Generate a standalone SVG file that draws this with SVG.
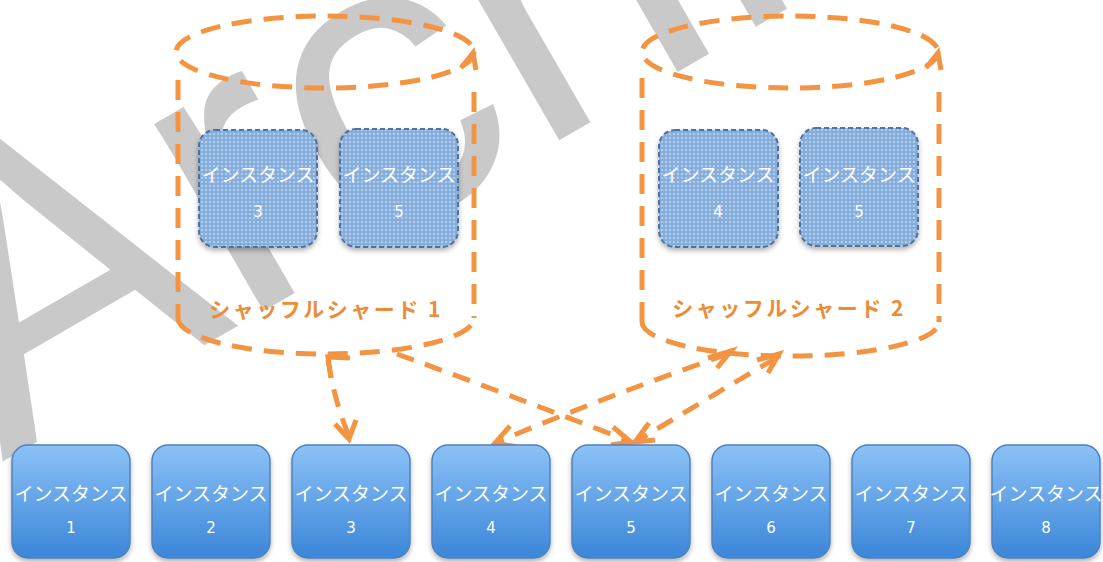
<svg xmlns="http://www.w3.org/2000/svg" width="1103" height="562" viewBox="0 0 1103 562">
  <defs>
    <style>
      .wm { font-family: "Liberation Sans", Arial, sans-serif; font-size: 410px; fill: #c9c9c9; }
      .cyl { fill: none; stroke: #F39443; stroke-width: 5; stroke-dasharray: 20 12; }
      .chev { fill: none; stroke: #F39443; stroke-width: 5; stroke-linecap: butt; }
      .conn { fill: none; stroke: #F39443; stroke-width: 5; stroke-dasharray: 18 12; }
      .lbl { font-family: "Noto Sans CJK JP", "Noto Sans", sans-serif; font-size: 21px; font-weight: 700; fill: #EC8B38; letter-spacing: 2.5px; text-anchor: middle; }
      .inst { font-family: "Noto Sans CJK JP", "Noto Sans", sans-serif; font-size: 19px; fill: #ffffff; text-anchor: middle; }
      .num { font-family: "DejaVu Sans", "Liberation Sans", sans-serif; font-size: 15px; fill: #ffffff; text-anchor: middle; }
      .box { fill: url(#boxGrad); stroke: #4F81BD; stroke-width: 1.5; filter: url(#shadow); }
      .shard { fill: url(#dots); stroke: #50739E; stroke-width: 2; stroke-dasharray: 5 3; filter: url(#shadow); }
    </style>
    <linearGradient id="boxGrad" x1="0" y1="0" x2="0" y2="1">
      <stop offset="0" stop-color="#8CC1F6"/>
      <stop offset="1" stop-color="#3B86D9"/>
    </linearGradient>
    <pattern id="dots" width="4" height="4" patternUnits="userSpaceOnUse">
      <rect width="4" height="4" fill="#86AEDD"/>
      <circle cx="2" cy="2" r="0.9" fill="#ffffff" fill-opacity="0.55"/>
    </pattern>
    <filter id="shadow" x="-10%" y="-10%" width="130%" height="130%">
      <feDropShadow dx="0" dy="3" stdDeviation="2.5" flood-color="#000" flood-opacity="0.3"/>
    </filter>
  </defs>

  <!-- background watermark lettering -->
  <text class="wm" transform="translate(2,462) rotate(-30)">Archi</text>

  <!-- shard cylinder 1 -->
  <g id="shard1">
    <ellipse class="cyl" cx="325" cy="52" rx="149" ry="36"/>
    <polyline class="chev" points="461,68 473,53 476,70"/>
    <line class="cyl" x1="178" y1="80" x2="178" y2="318"/>
    <line class="cyl" x1="474" y1="92" x2="474" y2="318"/>
    <path class="cyl" d="M178,318 A148,36 0 0 0 474,318"/>
    <g id="shard1-inst3">
      <rect class="shard" x="199" y="130" width="118" height="117" rx="16"/>
      <text class="inst" x="258" y="182">インスタンス</text>
      <text class="num" x="258" y="217">3</text>
    </g>
    <g id="shard1-inst5">
      <rect class="shard" x="340" y="129" width="118" height="118" rx="16"/>
      <text class="inst" x="399" y="182">インスタンス</text>
      <text class="num" x="399" y="217">5</text>
    </g>
    <text class="lbl" x="326" y="317">シャッフルシャード 1</text>
  </g>

  <!-- shard cylinder 2 -->
  <g id="shard2">
    <ellipse class="cyl" cx="790" cy="52" rx="148" ry="36"/>
    <polyline class="chev" points="926,68 938,53 941,70"/>
    <line class="cyl" x1="642" y1="78" x2="642" y2="322"/>
    <line class="cyl" x1="939" y1="92" x2="939" y2="322"/>
    <path class="cyl" d="M642,322 A148,34 0 0 0 939,322"/>
    <g id="shard2-inst4">
      <rect class="shard" x="659" y="130" width="119" height="117" rx="16"/>
      <text class="inst" x="718" y="182">インスタンス</text>
      <text class="num" x="718" y="217">4</text>
    </g>
    <g id="shard2-inst5">
      <rect class="shard" x="800" y="128" width="118" height="118" rx="16"/>
      <text class="inst" x="859" y="182">インスタンス</text>
      <text class="num" x="859" y="217">5</text>
    </g>
    <text class="lbl" x="789" y="316">シャッフルシャード 2</text>
  </g>

  <!-- connectors -->
  <g id="connectors">
    <path class="conn" d="M328,360 Q334,400 349,436"/>
    <polyline class="chev" points="350,358 328,357 331,378"/>
    <polyline class="chev" points="335,424 349,439 356,420"/>

    <path class="conn" d="M397,354 Q510,395 629,441"/>
    <polyline class="chev" points="613,427 631,442 611,445"/>

    <path class="conn" d="M728,354 Q610,395 497,442"/>
    <polyline class="chev" points="708,358 731,351 717,368"/>
    <polyline class="chev" points="510,426 495,443 517,447"/>

    <path class="conn" d="M776,358 Q705,400 637,441"/>
    <polyline class="chev" points="757,360 779,354 768,373"/>
    <polyline class="chev" points="649,423 635,442 655,440"/>
  </g>

  <!-- instance row -->
  <g id="inst1"><rect class="box" x="12" y="445" width="118" height="113" rx="16"/><text class="inst" x="71" y="501">インスタンス</text><text class="num" x="71" y="533">1</text></g>
  <g id="inst2"><rect class="box" x="152" y="445" width="118" height="113" rx="16"/><text class="inst" x="211" y="501">インスタンス</text><text class="num" x="211" y="533">2</text></g>
  <g id="inst3"><rect class="box" x="292" y="445" width="118" height="113" rx="16"/><text class="inst" x="351" y="501">インスタンス</text><text class="num" x="351" y="533">3</text></g>
  <g id="inst4"><rect class="box" x="432" y="445" width="118" height="113" rx="16"/><text class="inst" x="491" y="501">インスタンス</text><text class="num" x="491" y="533">4</text></g>
  <g id="inst5"><rect class="box" x="572" y="445" width="118" height="113" rx="16"/><text class="inst" x="631" y="501">インスタンス</text><text class="num" x="631" y="533">5</text></g>
  <g id="inst6"><rect class="box" x="712" y="445" width="118" height="113" rx="16"/><text class="inst" x="771" y="501">インスタンス</text><text class="num" x="771" y="533">6</text></g>
  <g id="inst7"><rect class="box" x="852" y="445" width="118" height="113" rx="16"/><text class="inst" x="911" y="501">インスタンス</text><text class="num" x="911" y="533">7</text></g>
  <g id="inst8"><rect class="box" x="992" y="445" width="108" height="113" rx="16"/><text class="inst" x="1046" y="501">インスタンス</text><text class="num" x="1046" y="533">8</text></g>
</svg>
